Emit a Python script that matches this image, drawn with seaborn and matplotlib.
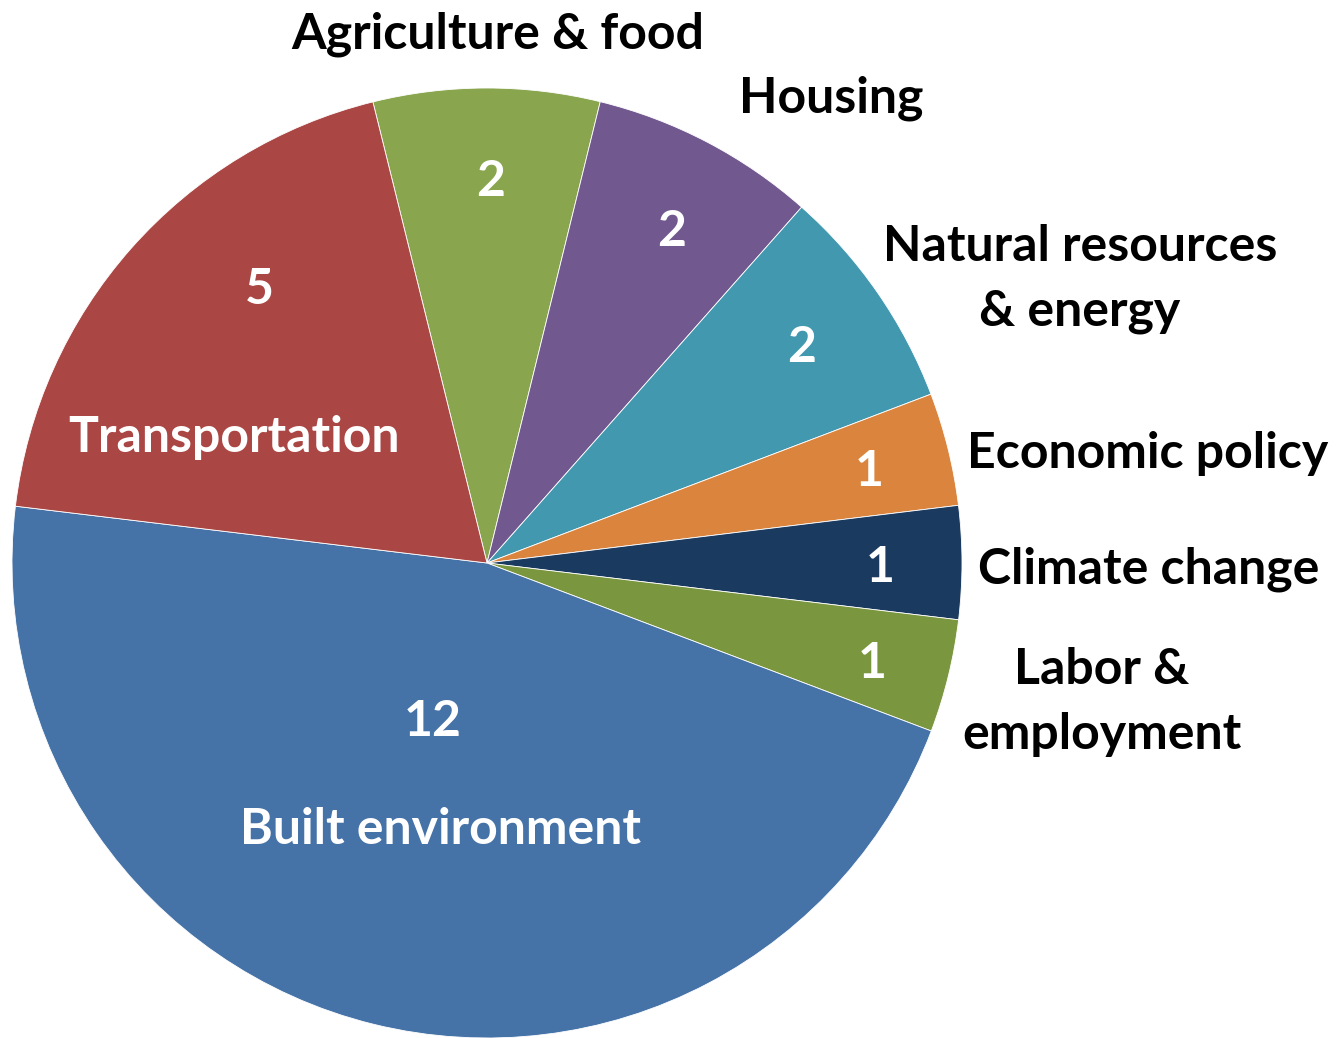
import matplotlib
matplotlib.use("Agg")
import matplotlib.pyplot as plt
import seaborn as sns

categories = ["Agriculture & food", "Housing", "Natural resources\n& energy",
              "Economic policy", "Climate change", "Labor &\nemployment",
              "Built environment", "Transportation"]
counts = [2, 2, 2, 1, 1, 1, 12, 5]
colors = ["#89A54E", "#71588F", "#4198AF", "#DB843D",
          "#1B3A5F", "#7A963E", "#4572A7", "#AA4643"]

# label placement (pixel coords, y measured from top)
num_pos = [(491, 182), (672, 231), (802, 348), (869, 471),
           (880, 567), (872, 663), (433, 722), (259, 290)]
name_pos = [(498, 34), (831, 98), (1080, 279), (1148, 453),
            (1149, 569), (1102, 702), (441, 830), (234, 437)]
name_inside = [False, False, False, False, False, False, True, True]

W, H = 1342, 1038
sns.set_style("white")
plt.rcParams['font.family'] = ['Lato', 'DejaVu Sans']

fig = plt.figure(figsize=(W / 100, H / 100), dpi=100)
ax = fig.add_axes([0, 0, 1, 1])

ax.pie(counts, colors=colors, startangle=103.9, counterclock=False,
       center=(487, H - 563), radius=475, frame=True,
       wedgeprops=dict(edgecolor='white', linewidth=0.6))
ax.set_xlim(0, W)
ax.set_ylim(0, H)
ax.set_aspect('equal')
ax.axis('off')

fs = 36
for n, (x, y) in zip(counts, num_pos):
    ax.text(x, H - y, str(n), color='white', fontsize=fs, fontweight='bold',
            ha='center', va='center')

for name, (x, y), inside in zip(categories, name_pos, name_inside):
    ax.text(x, H - y, name, color='white' if inside else 'black', fontsize=fs,
            fontweight='bold', ha='center', va='center', linespacing=1.55)

fig.savefig("out.png", dpi=100, facecolor='white')
